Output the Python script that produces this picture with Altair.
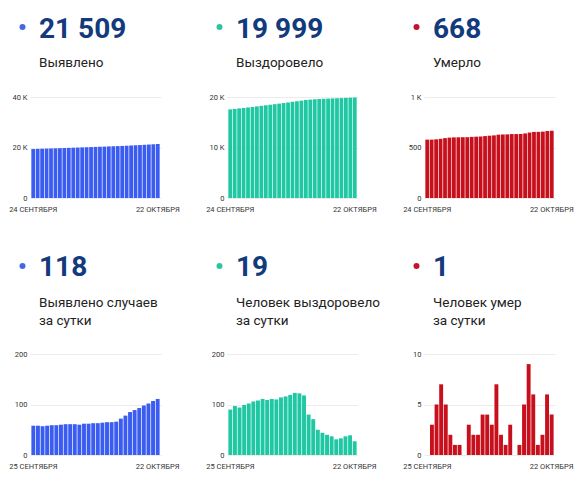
import altair as alt
import pandas as pd

top_dates = [f"{d} СЕНТЯБРЯ" for d in range(24, 31)] + [f"{d} ОКТЯБРЯ" for d in range(1, 23)]
bottom_dates = top_dates[1:]

cases_total = [19394, 19452, 19510, 19567, 19625, 19684, 19743, 19803, 19864, 19925,
               19986, 20046, 20108, 20170, 20233, 20296, 20360, 20425, 20490, 20556,
               20628, 20706, 20791, 20880, 20973, 21071, 21173, 21280, 21391]
recovered_total = [17550, 17640, 17737, 17831, 17930, 18032, 18138, 18246, 18357, 18466,
                   18577, 18687, 18801, 18917, 19036, 19159, 19281, 19399, 19479, 19550,
                   19600, 19644, 19684, 19721, 19752, 19785, 19822, 19861, 19888]
deaths_total = [578, 578, 581, 586, 593, 598, 600, 601, 602, 602,
                605, 607, 609, 613, 617, 620, 627, 629, 630, 633,
                633, 634, 639, 648, 654, 655, 657, 663, 667]
cases_daily = [58, 58, 57, 58, 59, 59, 60, 61, 61, 61, 60, 62, 62, 63, 63, 64, 65, 65, 66,
               72, 78, 85, 89, 93, 98, 102, 107, 111]
recovered_daily = [90, 97, 94, 99, 102, 106, 108, 111, 109, 111, 110, 114, 116, 119, 123, 122,
                   118, 80, 71, 50, 44, 40, 37, 31, 33, 37, 39, 27]
deaths_daily = [0, 3, 5, 7, 5, 2, 1, 1, 0, 3, 2, 2, 4, 4, 3, 7, 2, 1, 3, 0, 1, 5, 9, 6, 1, 2, 6, 4]

headlines = ["21 509", "19 999", "668", "118", "19", "1"]
labels = ["Выявлено", "Выздоровело", "Умерло",
          "Выявлено случаев\nза сутки", "Человек выздоровело\nза сутки", "Человек умер\nза сутки"]
y_max = [40000, 20000, 1000, 200, 200, 10]

BLUE, TEAL, RED = "#3b5cf0", "#1fc8a3", "#c8101d"
DOT_BLUE, DOT_TEAL, DOT_RED = "#4468e4", "#2ec4a2", "#c4142a"
NAVY = "#123a7c"


def panel(dates, values, color, dot_color, number, label, ymax, num_y, lab_y, dot_y):
    df = pd.DataFrame({"date": dates, "value": values})
    bars = alt.Chart(df).mark_bar(color=color).encode(
        x=alt.X("date:N", sort=dates, title=None,
                scale=alt.Scale(paddingInner=0.15, paddingOuter=0.3),
                axis=alt.Axis(values=[dates[0], dates[-1]], labelAngle=0, ticks=False, domain=False,
                              grid=False, labelFontSize=7.5, labelPadding=7, labelColor="#333",
                              labelFont="Roboto", labelOverlap=False)),
        y=alt.Y("value:Q", title=None, scale=alt.Scale(domain=[0, ymax], nice=False),
                axis=alt.Axis(values=[0, ymax / 2, ymax],
                              labelExpr="datum.value >= 1000 ? (datum.value / 1000) + ' K' : datum.value",
                              ticks=False, domain=False, gridColor="#ececec", labelFontSize=7.5,
                              labelPadding=3, labelColor="#333", labelFont="Roboto")),
    )
    one = pd.DataFrame({"k": [0]})
    dot = alt.Chart(one).mark_circle(color=dot_color, size=36, opacity=1).encode(
        x=alt.value(-7.5), y=alt.value(dot_y))
    num = alt.Chart(one).mark_text(font="Roboto", fontSize=28, fontWeight="bold", color=NAVY,
                                   align="left", baseline="alphabetic").encode(
        x=alt.value(9), y=alt.value(num_y), text=alt.value(number))
    lab = alt.Chart(one).mark_text(font="Roboto", fontSize=13.5, color="#222", align="left",
                                   baseline="alphabetic", lineBreak="\n", lineHeight=18).encode(
        x=alt.value(9), y=alt.value(lab_y), text=alt.value(label))
    return alt.layer(bars, dot, num, lab).properties(width=131, height=101)


panels = [
    panel(top_dates, cases_total, BLUE, DOT_BLUE, headlines[0], labels[0], y_max[0], -59.5, -30, -70),
    panel(top_dates, recovered_total, TEAL, DOT_TEAL, headlines[1], labels[1], y_max[1], -59.5, -30, -70),
    panel(top_dates, deaths_total, RED, DOT_RED, headlines[2], labels[2], y_max[2], -59.5, -30, -70),
    panel(bottom_dates, cases_daily, BLUE, DOT_BLUE, headlines[3], labels[3], y_max[3], -78, -47, -88),
    panel(bottom_dates, recovered_daily, TEAL, DOT_TEAL, headlines[4], labels[4], y_max[4], -78, -47, -88),
    panel(bottom_dates, deaths_daily, RED, DOT_RED, headlines[5], labels[5], y_max[5], -78, -47, -88),
]

chart = alt.concat(*panels, columns=3, spacing={"row": 156, "column": 66}, bounds="flush").properties(
    padding={"left": 0, "top": 7, "right": 0, "bottom": 0}
).configure_view(stroke=None)

chart.save("out.html", embed_options={"renderer": "svg", "actions": False})
